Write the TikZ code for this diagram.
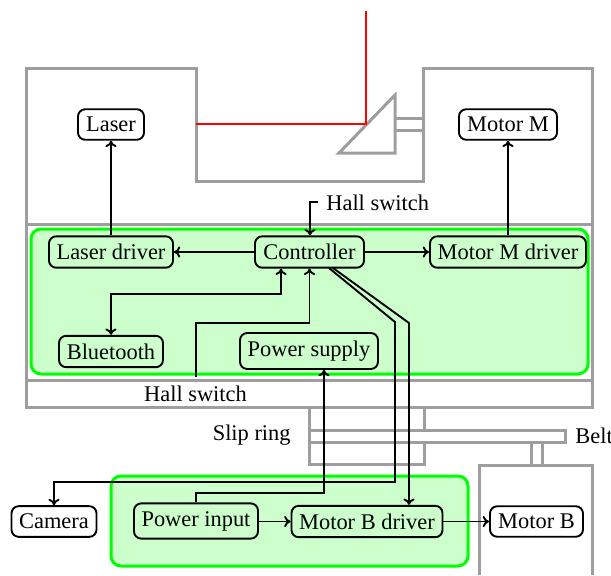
\documentclass[tikz,border=0pt]{standalone}
\usepackage{fontspec}
\setmainfont{Liberation Serif}
\usetikzlibrary{arrows.meta}
\tikzset{
  mech/.style={draw=black!38,line width=1.5pt,line join=miter},
  beam/.style={draw=red,line width=0.9pt},
  zone/.style={draw=green,fill=green!20,line width=1.5pt,rounded corners=5pt},
  block/.style={draw=black,line width=0.95pt,rounded corners=3.6pt,inner xsep=0pt,inner ysep=3.9pt,align=center},
  label/.style={inner sep=0pt},
  wire/.style={draw=black,line width=0.95pt,-{To[length=3.2pt,width=5.6pt]}},
  wirepair/.style={draw=black,line width=0.95pt,{To[length=3.2pt,width=5.6pt]}-{To[length=3.2pt,width=5.6pt]}}
}
\begin{document}
\begin{tikzpicture}[x=0.5pt,y=-0.5pt,font=\fontsize{11.2pt}{13pt}\selectfont]
\useasboundingbox (0,0) rectangle (611,575);
% mechanics
\draw[mech] (26,224) -- (26,68) -- (196,68) -- (196,181) -- (423.5,181) -- (423.5,68) -- (592,68) -- (592,224) -- cycle;
\draw[mech] (26,224) rectangle (592,380);
\draw[mech] (26,380) rectangle (592,407);
\draw[mech] (309,407) -- (309,464) -- (424,464) -- (424,442);
\draw[mech] (424,430) -- (424,407);
\draw[mech] (309,430) -- (565,430) -- (565,442) -- (309,442);
\draw[mech] (531,442) -- (531,465) (542,442) -- (542,465);
\draw[mech] (479,575) -- (479,465) -- (592,465) -- (592,575);
\draw[mech] (395,95) -- (395,153) -- (339,153) -- cycle;
\draw[mech] (395,118) -- (423.5,118) (395,130) -- (423.5,130);
\draw[beam] (366,11) -- (366,124) -- (196,124);
% zones
\draw[zone] (31,229) rectangle (588,374);
\draw[zone] (111,476) rectangle (468,566);
% blocks
\node[block,minimum width=33pt] (laser) at (111,124.5) {Laser};
\node[block,minimum width=49pt] (motorm) at (508,124.5) {Motor M};
\node[block,minimum width=62pt] (ldrv) at (111,252) {Laser driver};
\node[block,minimum width=54.5pt] (ctrl) at (309.5,252) {Controller};
\node[block,minimum width=78pt] (mdrv) at (508,252) {Motor M driver};
\node[block,minimum width=52pt] (bt) at (111,351.5) {Bluetooth};
\node[block,minimum width=69pt] (psu) at (309,351) {Power supply};
\node[block,minimum width=42.5pt] (cam) at (54,521.5) {Camera};
\node[block,minimum width=62pt] (pin) at (196,521) {Power input};
\node[block,minimum width=75.5pt] (bdrv) at (367,521.5) {Motor B driver};
\node[block,minimum width=46.5pt] (mb) at (536.5,521.5) {Motor B};
% labels
\node[label,anchor=west] (hallt) at (326,203) {Hall switch};
\node[label] (hallb) at (195.5,394) {Hall switch};
\node[label,anchor=east] (slip) at (291,435) {Slip ring};
\node[label,anchor=west] (belt) at (575,436) {Belt};
% routing points
\coordinate (ht) at (310,202);
\coordinate (btc) at (281,294);
\coordinate (hs) at (196,377);
\coordinate (hsc) at (196,323);
\coordinate (pc) at (196,493);
\coordinate (pp) at (324,493);
\coordinate (c1s) at (329,268);
\coordinate (c1k) at (395,322);
\coordinate (c1b) at (395,482);
\coordinate (c2s) at (333,268);
\coordinate (c2k) at (409,323);
% connectors
\draw[wire] (ldrv.north) -- (laser.south);
\draw[wire] (mdrv.north) -- (motorm.south);
\draw[wire] (ctrl.west) -- (ldrv.east);
\draw[wire] (ctrl.east) -- (mdrv.west);
\draw[wire] ([xshift=-4pt]hallt.west |- ht) -- (ht) -- (ht |- ctrl.north);
\draw[wirepair] (btc |- ctrl.south) -- (btc) -- (btc -| bt.north) -- (bt.north);
\draw[wire] (hs) -- (hsc) -- (hsc -| ctrl.south) -- (ctrl.south);
\draw[wire] (pin.north -| pc) -- (pc) -- (pp) -- (pp |- psu.south);
\draw[wire] (c1s) -- (c1k) -- (c1b) -- (c1b -| cam.north) -- (cam.north);
\draw[wire] (c2s) -- (c2k) -- (c2k |- bdrv.north);
\draw[wire] (pin.east |- bdrv.west) -- (bdrv.west);
\draw[wire] (bdrv.east) -- (mb.west);
\end{tikzpicture}
\end{document}
